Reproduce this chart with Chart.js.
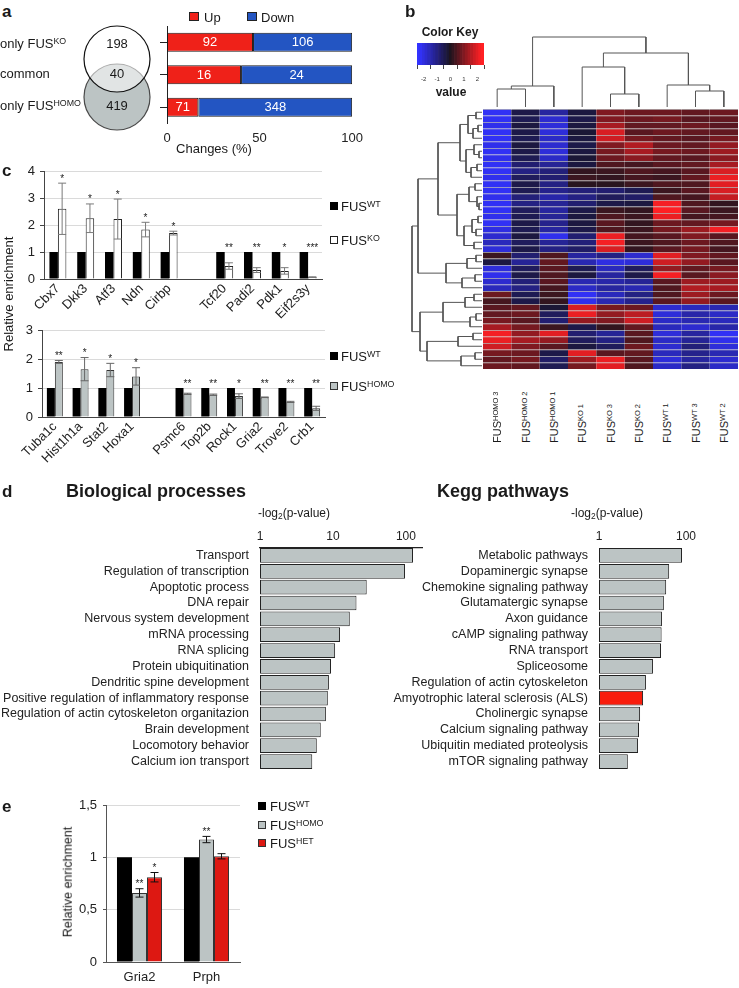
<!DOCTYPE html>
<html lang="en">
<head>
<meta charset="UTF-8">
<title>FUS target genes</title>
<style>
  body { margin: 0; background: #fff; font-family: "Liberation Sans", Arial, sans-serif; color: #1a1a1a; }
  #fig { position: relative; width: 739px; height: 988px; overflow: hidden; }
  #fig canvas { position: absolute; }
  .t { position: absolute; white-space: nowrap; line-height: 1; font-size: 13px; }
  .panel { font-weight: bold; font-size: 17px; }
  .head { font-weight: bold; font-size: 18px; }
  .sw { position: absolute; box-sizing: border-box; }
  sup { font-size: 0.68em; vertical-align: 0.45em; line-height: 0; }
  sub { font-size: 0.7em; vertical-align: -0.25em; line-height: 0; }
</style>
<script src="https://cdn.jsdelivr.net/npm/chart.js"></script>
</head>
<body>
<div id="fig"></div>
<script>
// panel a
const vennLabels = ['only FUS<sup>KO</sup>', 'common', 'only FUS<sup>HOMO</sup>'];
const vennCounts = [198, 40, 419];
const upCounts = [92, 16, 71];
const downCounts = [106, 24, 348];
const changeTicks = [0, 50, 100];

// panel b
const sampleLabels = ['FUS<sup>HOMO 3</sup>', 'FUS<sup>HOMO 2</sup>', 'FUS<sup>HOMO 1</sup>',
  'FUS<sup>KO 1</sup>', 'FUS<sup>KO 3</sup>', 'FUS<sup>KO 2</sup>',
  'FUS<sup>WT 1</sup>', 'FUS<sup>WT 3</sup>', 'FUS<sup>WT 2</sup>'];
const keyBins = [-2.4, -2.2, -2.0, -1.8, -1.6, -1.4, -1.2, -1.0, -0.8, -0.6, -0.4, -0.2, 0,
  0.2, 0.4, 0.6, 0.8, 1.0, 1.2, 1.4, 1.6, 1.8, 2.0, 2.2, 2.4];
const keyTicks = [-2, -1, 0, 1, 2];
// rows top to bottom, columns in sample order
const heatRows = [
  [-2.2, -0.4, -1.3, -0.3, 1.0, 0.8, 0.8, 0.7, 0.8],
  [-2.2, -0.5, -1.8, -0.4, 1.0, 0.8, 0.9, 0.6, 0.7],
  [-2.1, -0.3, -1.9, -0.3, 1.4, 0.7, 0.7, 0.8, 0.6],
  [-2.2, -0.4, -1.9, -0.2, 1.9, 0.6, 0.8, 0.7, 0.7],
  [-2.2, -0.5, -1.7, -0.3, 1.8, 0.9, 0.7, 0.6, 0.9],
  [-2.1, -0.3, -1.8, -0.4, 1.0, 1.5, 0.8, 0.7, 1.2],
  [-2.2, -0.4, -1.9, -0.3, 0.9, 1.4, 0.9, 0.8, 1.3],
  [-2.1, -0.5, -1.7, -0.2, 0.8, 1.1, 0.7, 0.6, 1.1],
  [-2.2, -0.8, -1.2, -0.3, 0.5, 0.4, 0.6, 0.7, 1.4],
  [-2.2, -1.0, -0.9, 0.2, 0.3, 0.5, 0.4, 0.6, 1.9],
  [-2.1, -0.6, -0.8, 0.3, 0.2, 0.4, 0.3, 0.7, 2.1],
  [-2.2, -0.4, -1.0, 0.1, 0.1, 0.3, 0.5, 0.5, 2.0],
  [-2.2, -0.5, -1.1, -0.9, -0.8, -0.5, 0.3, 0.6, 1.9],
  [-2.1, -0.9, -1.4, -1.0, -0.6, -0.7, 0.5, 0.4, 1.7],
  [-2.2, -1.0, -1.2, -0.8, -0.4, -0.3, 2.2, 0.5, 0.2],
  [-2.2, -0.6, -1.3, -0.4, 0.3, 0.2, 2.3, 0.6, 0.3],
  [-2.1, -0.5, -1.2, -0.3, 0.5, 0.3, 2.1, 0.4, 0.4],
  [-2.2, -0.4, -1.1, -0.3, 0.6, 0.2, 0.8, 0.7, 0.9],
  [-2.0, -0.5, -1.3, -0.4, 0.5, 0.3, 0.9, 1.3, 2.2],
  [-1.8, -0.3, -2.1, -0.8, 2.1, 0.4, 0.6, 1.0, 0.6],
  [-1.6, -0.6, -1.2, -0.9, 2.2, 0.3, 0.5, 0.8, 0.5],
  [-1.9, -0.4, -1.0, -0.7, 1.9, 0.2, 0.6, 0.9, 0.4],
  [0.3, -0.8, 0.5, -1.3, -1.0, -1.8, 2.0, 1.0, 0.7],
  [-0.3, -1.2, 0.7, -1.5, -2.0, -1.9, 1.8, 1.2, 0.6],
  [-1.9, -0.6, 0.6, -0.5, -1.6, -0.6, 1.2, 0.7, 0.9],
  [-2.1, -0.4, 0.5, -0.3, -1.3, -0.4, 2.2, 0.6, 1.1],
  [-1.8, -0.9, 0.6, -1.5, -1.4, -1.2, 0.6, 1.3, 1.3],
  [-1.6, -1.0, 0.4, -1.7, -1.3, -1.5, 0.5, 1.5, 1.4],
  [0.8, -0.5, 0.3, -2.2, -1.6, -1.0, 0.5, 1.3, 0.8],
  [0.4, -0.4, 0.2, -2.1, -1.5, -1.1, 0.6, 1.2, 0.6],
  [0.6, 0.7, -0.2, 1.9, 0.9, 0.8, -1.8, -1.6, -1.5],
  [0.7, 0.8, -0.6, 2.1, 1.2, 1.6, -1.9, -1.4, -1.7],
  [0.9, 0.6, -0.8, 1.2, 1.0, 1.8, -1.7, -1.5, -1.6],
  [1.4, 0.9, 0.3, -0.4, 0.2, 0.7, -1.6, -1.8, -1.4],
  [2.2, 1.2, 2.0, -0.8, -1.2, 0.6, -1.9, -1.3, -2.2],
  [2.1, 1.4, 1.2, -0.6, -1.0, 0.5, -1.7, -1.2, -2.1],
  [1.8, 1.0, 0.6, -0.3, -0.6, 0.8, -1.8, -0.9, -1.9],
  [0.9, 0.8, -0.4, 2.0, 0.6, 0.7, -1.6, -1.1, -1.5],
  [0.7, 0.9, -0.7, 1.3, 2.1, 0.6, -1.9, -1.3, -1.8],
  [0.8, 0.7, -0.5, 0.9, 2.0, 0.5, -1.7, -1.0, -1.7]
];
// dendrograms: [height, left, right], 0 = leaf (leaves taken in order)
const colTree = [70, [21, [18, 0, 0], 0], [54, [40, 0, [13, 0, 0]], [22, 0, [16, 0, 0]]]];
const rowTree = [70,
  [64,
    [44,
      [22, [14, [6, 0, 0], [9, [4, 0, 0], 0]], [16, [8, 0, [3, 0, 0]], [11, [5, 0, 0], 0]]],
      [25, [13, [7, 0, 0], [5, 0, [3, 0, 0]]], [18, [10, [4, 0, 0], [6, 0, 0]], [8, 0, 0]]]],
    [36, [15, [6, 0, 0], 0], [20, [7, 0, 0], 0]]],
  [62,
    [39, [17, [8, 0, 0], 0], [12, [6, 0, 0], 0]],
    [55, [24, [9, 0, 0], 0], [21, [7, 0, 0], 0]]]];

// panel c
const genesKO = ['Cbx7', 'Dkk3', 'Atf3', 'Ndn', 'Cirbp', '', 'Tcf20', 'Padi2', 'Pdk1', 'Eif2s3y'];
const koWT = [1, 1, 1, 1, 1, null, 1, 1, 1, 1];
const koMut = [2.6, 2.25, 2.22, 1.83, 1.7, null, 0.48, 0.33, 0.3, 0.07];
const koErr = [0.95, 0.53, 0.74, 0.27, 0.07, null, 0.12, 0.09, 0.12, 0.01];
const koStars = ['*', '*', '*', '*', '*', '', '**', '**', '*', '***'];
const genesHomo = ['Tuba1c', 'Hist1h1a', 'Stat2', 'Hoxa1', '', 'Psmc6', 'Top2b', 'Rock1', 'Gria2', 'Trove2', 'Crb1'];
const homoWT = [1, 1, 1, 1, null, 1, 1, 1, 1, 1, 1];
const homoMut = [1.9, 1.65, 1.62, 1.4, null, 0.8, 0.77, 0.72, 0.68, 0.52, 0.3];
const homoErr = [0.05, 0.4, 0.23, 0.3, null, 0.02, 0.02, 0.08, 0.01, 0.02, 0.07];
const homoStars = ['**', '*', '*', '*', '', '**', '**', '*', '**', '**', '**'];

// panel d
const bioTerms = ['Transport', 'Regulation of transcription', 'Apoptotic process', 'DNA repair',
  'Nervous system development', 'mRNA processing', 'RNA splicing', 'Protein ubiquitination',
  'Dendritic spine development', 'Positive regulation of inflammatory response',
  'Regulation of actin cytoskeleton organitazion', 'Brain development', 'Locomotory behavior',
  'Calcium ion transport'];
const bioValues = [125, 97, 29, 21, 17, 12.5, 10.7, 9.4, 8.8, 8.5, 8.0, 6.8, 6.0, 5.2];
const bioTicks = [1, 10, 100];
const keggTerms = ['Metabolic pathways', 'Dopaminergic synapse', 'Chemokine signaling pathway',
  'Glutamatergic synapse', 'Axon guidance', 'cAMP signaling pathway', 'RNA transport',
  'Spliceosome', 'Regulation of actin cytoskeleton', 'Amyotrophic lateral sclerosis (ALS)',
  'Cholinergic synapse', 'Calcium signaling pathway', 'Ubiquitin mediated proteolysis',
  'mTOR signaling pathway'];
const keggValues = [81, 41, 35, 31, 28, 27.5, 26.6, 17.4, 12, 10.3, 8.8, 8.3, 7.9, 4.6];
const keggTicks = [1, 100];
const keggHighlight = 'Amyotrophic lateral sclerosis (ALS)';

// panel e
const genesE = ['Gria2', 'Prph'];
const eWT = [1, 1];
const eHomo = [0.66, 1.17];
const eHomoErr = [0.04, 0.03];
const eHet = [0.81, 1.01];
const eHetErr = [0.045, 0.025];
const eHomoStars = ['**', '**'];
const eHetStars = ['*', ''];
const eTicks = [0, 0.5, 1, 1.5];

const RED = '#ef2119', BLUE = '#2355c2', GRAY = '#bcc4c4', RED_E = '#dd1812', RED_ALS = '#f81c0c';
const GRID = '#dadada', FONT = '"Liberation Sans", Arial, sans-serif';

Chart.defaults.animation = false;
Chart.defaults.font.family = FONT;
Chart.defaults.font.size = 13;
Chart.defaults.color = '#222';
Chart.defaults.plugins.legend.display = false;
Chart.defaults.plugins.tooltip.enabled = false;
Chart.defaults.plugins.colors.enabled = false;

const fig = document.getElementById('fig');

// canvas at box [left, top, w, h]; plot area pinned to area [x0, y0, x1, y1].
// each visible axis takes the whole margin on its side so its labels are not clipped
function makeChart(box, area, config) {
  const canvas = document.createElement('canvas');
  canvas.width = box[2];
  canvas.height = box[3];
  canvas.style.left = box[0] + 'px';
  canvas.style.top = box[1] + 'px';
  fig.appendChild(canvas);
  const margin = { left: area[0] - box[0], top: area[1] - box[1],
    right: box[0] + box[2] - area[2], bottom: box[1] + box[3] - area[3] };
  const pad = Object.assign({}, margin);
  Object.entries(config.options.scales || {}).forEach(([id, s]) => {
    if (s.display === false) return;
    const side = s.position || (id === 'x' ? 'bottom' : 'left');
    const size = margin[side];
    pad[side] = 0;
    s.afterFit = sc => { if (sc.isHorizontal()) sc.height = size; else sc.width = size; };
  });
  config.options.responsive = false;
  config.options.devicePixelRatio = 1;
  config.options.layout = { autoPadding: false, padding: pad };
  return new Chart(canvas, config);
}

function put(html, x, y, cls, align, extra) {
  const d = document.createElement('div');
  d.className = 't ' + (cls || '');
  d.innerHTML = html;
  d.style.left = x + 'px';
  d.style.top = y + 'px';
  const ax = { l: '0', c: '-50%', r: '-100%' }[align || 'l'];
  d.style.transform = 'translate(' + ax + ', -50%)' + (extra || '');
  fig.appendChild(d);
  return d;
}
function swatch(x, y, w, h, fill, border) {
  const d = document.createElement('div');
  d.className = 'sw';
  d.style.cssText += 'left:' + x + 'px;top:' + y + 'px;width:' + w + 'px;height:' + h + 'px;background:' + fill +
    ';border:1px solid ' + (border || fill);
  fig.appendChild(d);
}

function heatColor(v) {
  const t = Math.min(1, Math.abs(v) / 2.3);
  if (v < 0) return 'rgb(' + Math.round(25 + 25 * t) + ',' + Math.round(20 + 30 * t) + ',' + Math.round(35 + 220 * t) + ')';
  return 'rgb(' + Math.round(30 + 225 * t) + ',' + Math.round(20 + 12 * t) + ',' + Math.round(30 + 6 * t) + ')';
}

// walk a tree and return one U-shaped link per merge as [[pos, height], ...]
function dendroLinks(tree) {
  let leaf = 0;
  const links = [];
  function walk(node) {
    if (!Array.isArray(node)) { leaf++; return { p: leaf - 0.5, h: 0 }; }
    const a = walk(node[1]), b = walk(node[2]), h = node[0];
    links.push([[a.p, a.h], [a.p, h], [b.p, h], [b.p, b.h]]);
    return { p: (a.p + b.p) / 2, h: h };
  }
  walk(tree);
  return links;
}

const errorBarPlugin = {
  id: 'errorBars',
  afterDatasetsDraw(chart, args, opts) {
    const ctx = chart.ctx, y = chart.scales.y;
    opts.sets.forEach(set => {
      const values = chart.data.datasets[set.dataset].data;
      ctx.save();
      ctx.strokeStyle = set.color;
      ctx.lineWidth = 1;
      ctx.fillStyle = '#222';
      ctx.font = '10px ' + FONT;
      ctx.textAlign = 'center';
      ctx.textBaseline = 'alphabetic';
      chart.getDatasetMeta(set.dataset).data.forEach((bar, i) => {
        const v = values[i], err = set.errors[i];
        if (v == null || err == null) return;
        const top = y.getPixelForValue(v + err), bottom = y.getPixelForValue(v - err);
        ctx.beginPath();
        ctx.moveTo(bar.x, top); ctx.lineTo(bar.x, bottom);
        ctx.moveTo(bar.x - set.cap, top); ctx.lineTo(bar.x + set.cap, top);
        ctx.moveTo(bar.x - set.cap, bottom); ctx.lineTo(bar.x + set.cap, bottom);
        ctx.stroke();
        if (!set.stars[i]) return;
        let peak = v + err;
        if (set.group) chart.data.datasets.forEach(d => { if (d.data[i] != null) peak = Math.max(peak, d.data[i]); });
        ctx.fillText(set.stars[i], bar.x, y.getPixelForValue(peak) - 1.5);
      });
      ctx.restore();
    });
  }
};

const barTextPlugin = {
  id: 'barText',
  afterDatasetsDraw(chart) {
    const ctx = chart.ctx;
    ctx.save();
    ctx.fillStyle = '#fff';
    ctx.font = '13px ' + FONT;
    ctx.textAlign = 'center';
    ctx.textBaseline = 'middle';
    chart.data.datasets.forEach((ds, di) => {
      chart.getDatasetMeta(di).data.forEach((bar, i) => {
        ctx.fillText(String(ds.counts[i]), (bar.x + bar.base) / 2, bar.y + 0.5);
      });
    });
    ctx.restore();
  }
};

// ---------- a ----------
makeChart([74, 16, 86, 124], [74, 21, 160, 135], {
  type: 'bubble',
  data: { datasets: [{
    data: [{ x: 0, y: 0 }, { x: 0, y: 1 }],
    radius: 33,
    backgroundColor: [GRAY, 'rgba(255,255,255,0.55)'],
    borderColor: ['#4a4a4a', '#111'],
    borderWidth: 1.2,
    clip: false
  }] },
  options: { scales: { x: { display: false, min: -1, max: 1 }, y: { display: false, min: -1, max: 2 } } }
});

const upPct = upCounts.map((u, i) => u / (u + downCounts[i]) * 100);
const downPct = downCounts.map((d, i) => d / (upCounts[i] + downCounts[i]) * 100);
makeChart([140, 18, 230, 136], [167, 26, 355, 123.5], {
  type: 'bar',
  data: { labels: ['only KO', 'common', 'only HOMO'], datasets: [
    { label: 'Up', data: upPct, backgroundColor: RED, counts: upCounts },
    { label: 'Down', data: downPct, backgroundColor: BLUE, counts: downCounts }
  ] },
  options: {
    indexAxis: 'y',
    datasets: { bar: { borderColor: '#1a1a1a', borderWidth: 1, borderSkipped: false, categoryPercentage: 1, barPercentage: 0.585 } },
    scales: {
      x: { type: 'linear', stacked: true, min: 0, max: 100, grid: { display: false, drawTicks: false }, border: { display: false },
        afterBuildTicks: s => { s.ticks = changeTicks.map(v => ({ value: v })); },
        ticks: { padding: 7 } },
      y: { stacked: true, grid: { offset: false, drawOnChartArea: false, tickLength: 7, color: '#222' },
        border: { color: '#222' }, ticks: { display: false } }
    }
  },
  plugins: [barTextPlugin]
});

put('a', 2, 11, 'panel');
swatch(189, 12, 10, 9, RED, '#222');
put('Up', 204, 16.5);
swatch(247, 12, 10, 9, BLUE, '#222');
put('Down', 261, 16.5);
const vennRowY = [43, 73, 105];
vennLabels.forEach((lab, i) => put(lab, 0, vennRowY[i]));
vennCounts.forEach((n, i) => put(String(n), 117, vennRowY[i], '', 'c'));
put('Changes (%)', 214, 148, '', 'c');

// ---------- b ----------
const heatArea = [483, 109, 738, 369];
makeChart([478, 104, 262, 270], heatArea, {
  type: 'bar',
  data: {
    labels: sampleLabels.map((s, i) => 'S' + i),
    datasets: heatRows.map((row, r) => ({ data: row.map(() => [r, r + 1]), backgroundColor: row.map(heatColor) }))
  },
  options: {
    datasets: { bar: { grouped: false, categoryPercentage: 1, barPercentage: 1,
      borderWidth: { top: 1 }, borderColor: 'rgba(0,0,0,0.28)', borderSkipped: false } },
    scales: { x: { display: false }, y: { display: false, min: 0, max: heatRows.length, reverse: true } }
  }
});

const DENDRO = { showLine: true, pointRadius: 0, borderColor: '#555', borderWidth: 1, clip: false };
makeChart([470, 26, 280, 92], [483, 37, 738, 107], {
  type: 'scatter',
  data: { datasets: dendroLinks(colTree).map(l => Object.assign({ data: l.map(p => ({ x: p[0], y: p[1] })) }, DENDRO)) },
  options: {
    scales: { x: { display: false, min: 0, max: sampleLabels.length }, y: { display: false, min: 0, max: 70 } }
  }
});

makeChart([400, 100, 90, 280], [412, 109, 482, 369], {
  type: 'scatter',
  data: { datasets: dendroLinks(rowTree).map(l => Object.assign({ data: l.map(p => ({ x: p[1], y: p[0] })) }, DENDRO)) },
  options: {
    scales: { x: { display: false, min: 0, max: 70, reverse: true }, y: { display: false, min: 0, max: heatRows.length, reverse: true } }
  }
});

makeChart([405, 36, 92, 54], [417, 43, 484, 65], {
  type: 'bar',
  data: { datasets: [{ data: keyBins.map(v => ({ x: v, y: 1 })), backgroundColor: keyBins.map(heatColor),
    barPercentage: 1, categoryPercentage: 1 }] },
  options: {
    scales: {
      x: { type: 'linear', min: -2.5, max: 2.5, offset: false,
        grid: { drawOnChartArea: false, tickLength: 4, tickColor: '#444' }, border: { display: false },
        afterBuildTicks: s => { s.ticks = keyTicks.map(v => ({ value: v })); },
        ticks: { font: { size: 6 }, padding: 7, color: '#333' } },
      y: { display: false, min: 0, max: 1 }
    }
  }
});

put('b', 405, 11, 'panel');
put('Color Key', 450, 32, '', 'c').style.cssText += 'font-weight:bold;font-size:12px;';
put('value', 451, 92, '', 'c').style.cssText += 'font-weight:bold;font-size:12px;';
sampleLabels.forEach((lab, i) => {
  const cx = heatArea[0] + (i + 0.5) * (heatArea[2] - heatArea[0]) / sampleLabels.length;
  const d = document.createElement('div');
  d.className = 't';
  d.innerHTML = lab;
  d.style.cssText += 'left:' + (cx - 6) + 'px;top:443px;font-size:11px;line-height:12px;transform-origin:0 0;transform:rotate(-90deg);';
  fig.appendChild(d);
});

// ---------- c ----------
makeChart([0, 148, 340, 190], [44, 171, 322, 279], {
  type: 'bar',
  data: { labels: genesKO, datasets: [
    { data: koWT, backgroundColor: '#000', borderWidth: 0 },
    { data: koMut, backgroundColor: '#fff', borderColor: '#222', borderWidth: 1 }
  ] },
  options: {
    datasets: { bar: { categoryPercentage: 0.61, barPercentage: 1 } },
    scales: {
      x: { grid: { display: false, drawTicks: false }, border: { color: '#444' },
        ticks: { minRotation: 45, maxRotation: 45, autoSkip: false, padding: 2 } },
      y: { min: 0, max: 4, ticks: { stepSize: 1, padding: 5 }, grid: { color: GRID, tickColor: '#444', tickLength: 4 }, border: { color: '#444' } }
    },
    plugins: { errorBars: { sets: [{ dataset: 1, errors: koErr, stars: koStars, color: '#7a7a7a', cap: 4, group: true }] } }
  },
  plugins: [errorBarPlugin]
});

makeChart([0, 305, 340, 180], [42, 330, 325, 417], {
  type: 'bar',
  data: { labels: genesHomo, datasets: [
    { data: homoWT, backgroundColor: '#000', borderWidth: 0 },
    { data: homoMut, backgroundColor: GRAY, borderColor: '#333', borderWidth: 1 }
  ] },
  options: {
    datasets: { bar: { categoryPercentage: 0.62, barPercentage: 1 } },
    scales: {
      x: { grid: { display: false, drawTicks: false }, border: { color: '#444' },
        ticks: { minRotation: 45, maxRotation: 45, autoSkip: false, padding: 2 } },
      y: { min: 0, max: 3, ticks: { stepSize: 1, padding: 5 }, grid: { color: GRID, tickColor: '#444', tickLength: 4 }, border: { color: '#444' } }
    },
    plugins: { errorBars: { sets: [{ dataset: 1, errors: homoErr, stars: homoStars, color: '#666', cap: 4, group: true }] } }
  },
  plugins: [errorBarPlugin]
});

put('c', 2, 170, 'panel');
put('Relative enrichment', 8, 294, '', 'c', ' rotate(-90deg)');
swatch(330, 202, 8, 8, '#000');
put('FUS<sup>WT</sup>', 341, 206);
swatch(330, 236, 8, 8, '#fff', '#222');
put('FUS<sup>KO</sup>', 341, 240);
swatch(330, 352, 8, 8, '#000');
put('FUS<sup>WT</sup>', 341, 356);
swatch(330, 382, 8, 8, GRAY, '#333');
put('FUS<sup>HOMO</sup>', 341, 386);

// ---------- d ----------
function termChart(box, area, labels, values, ticks, max, colors, axisLine) {
  return makeChart(box, area, {
    type: 'bar',
    data: { labels: labels, datasets: [{ data: values, backgroundColor: colors }] },
    options: {
      indexAxis: 'y',
      datasets: { bar: { borderColor: '#222', borderWidth: 1, borderSkipped: false, categoryPercentage: 1, barPercentage: 0.93 } },
      scales: {
        x: { type: 'logarithmic', position: 'top', min: 1, max: max, bounds: 'data',
          grid: { display: false, drawTicks: false }, border: { display: axisLine, color: '#222', width: 1.3 },
          afterBuildTicks: s => { s.ticks = ticks.map(v => ({ value: v })); },
          ticks: { padding: 4, font: { size: 12 }, callback: v => String(v) } },
        y: { grid: { display: false, drawTicks: false }, border: { display: false },
          ticks: { padding: 11, font: { size: 12.5 }, autoSkip: false } }
      }
    }
  });
}
termChart([0, 512, 440, 276], [260, 547.5, 422, 776.5], bioTerms, bioValues, bioTicks, 166,
  bioTerms.map(() => GRAY), true);
termChart([380, 512, 340, 276], [599, 547.5, 686, 776.5], keggTerms, keggValues, keggTicks, 100,
  keggTerms.map(t => t === keggHighlight ? RED_ALS : GRAY), false);

put('d', 2, 491, 'panel');
put('Biological processes', 66, 491, 'head');
put('Kegg pathways', 437, 491, 'head');
put('-log<sub>2</sub>(p-value)', 258, 513, '', 'l').style.fontSize = '12px';
put('-log<sub>2</sub>(p-value)', 571, 513, '', 'l').style.fontSize = '12px';

// ---------- e ----------
makeChart([40, 780, 222, 208], [106, 805, 240, 962], {
  type: 'bar',
  data: { labels: genesE, datasets: [
    { data: eWT, backgroundColor: '#000', borderWidth: 0 },
    { data: eHomo, backgroundColor: GRAY, borderColor: '#333', borderWidth: 1 },
    { data: eHet, backgroundColor: RED_E, borderColor: '#333', borderWidth: 1 }
  ] },
  options: {
    datasets: { bar: { categoryPercentage: 0.672, barPercentage: 1 } },
    scales: {
      x: { grid: { display: false, drawTicks: false }, border: { color: '#555' }, ticks: { padding: 8 } },
      y: { min: 0, max: 1.5,
        afterBuildTicks: s => { s.ticks = eTicks.map(v => ({ value: v })); },
        ticks: { padding: 6, callback: v => String(v).replace('.', ',') },
        grid: { color: GRID, tickColor: '#555', tickLength: 3 }, border: { color: '#555' } }
    },
    plugins: { errorBars: { sets: [
      { dataset: 1, errors: eHomoErr, stars: eHomoStars, color: '#111', cap: 4, group: false },
      { dataset: 2, errors: eHetErr, stars: eHetStars, color: '#111', cap: 4, group: false }
    ] } }
  },
  plugins: [errorBarPlugin]
});

put('e', 2, 806, 'panel');
put('Relative enrichment', 68, 882, '', 'c', ' rotate(-90deg)').style.fontSize = '12.5px';
swatch(258, 802, 8, 8, '#000');
put('FUS<sup>WT</sup>', 270, 806);
swatch(258, 821, 8, 8, GRAY, '#333');
put('FUS<sup>HOMO</sup>', 270, 825);
swatch(258, 839, 8, 8, RED_E, '#333');
put('FUS<sup>HET</sup>', 270, 843);
</script>
</body>
</html>
